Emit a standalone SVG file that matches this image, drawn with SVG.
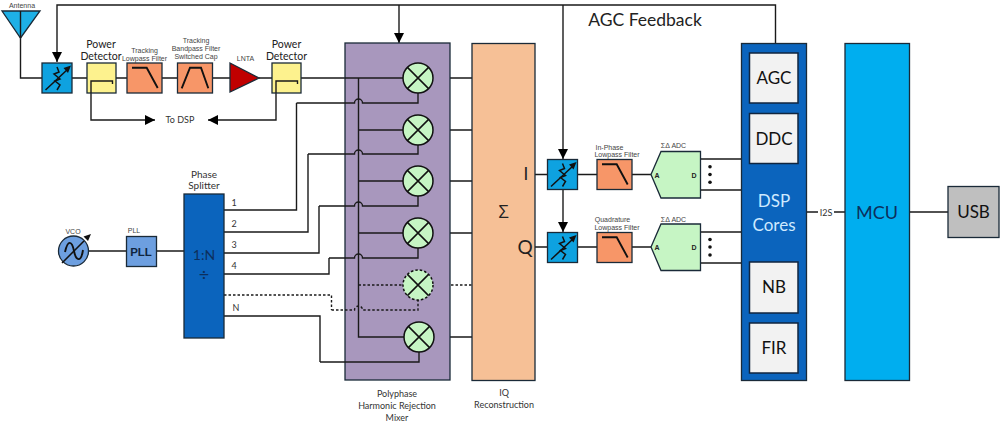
<svg xmlns="http://www.w3.org/2000/svg" width="1000" height="428" viewBox="0 0 1000 428">
<style>
text{font-family:"Lato","Open Sans",sans-serif;fill:#222;text-anchor:middle}
.s{font-family:"Liberation Sans",Arial,sans-serif;font-size:7px;fill:#444}
.m{font-size:9px;fill:#333}
.l{font-size:10.500px}
.b{font-size:17px;fill:#111}
.w{fill:none;stroke:#1a1a1a;stroke-width:1.4}
.d{fill:none;stroke:#1a1a1a;stroke-width:1.4;stroke-dasharray:2.5 2}
.box{stroke:#1a2a38;stroke-width:1.3}
.at{fill:#0ea2e0}
.fi{fill:#f79668}
.pd{fill:#fdf28e}
.mix{fill:#c6f5c4}
.core{fill:#f2f2f2;stroke:#10253f;stroke-width:1.5}
.g{fill:none;stroke:#111;stroke-width:1.5}
.t{fill:none;stroke:#111;stroke-width:1.9}
</style>
<defs>
<marker id="a" markerUnits="userSpaceOnUse" markerWidth="11" markerHeight="10" refX="10" refY="5" orient="auto"><path d="M0 0L10 5L0 10Z" fill="#000"/></marker>
<g id="atten">
<rect class="box at" width="30" height="30"/>
<path class="g" d="M3.500 27L26 6"/>
<path class="g" d="M15 4L17 9L12 11L18 16L13 18L18 22L15 27"/>
<path d="M29 2.500L21.500 5L26 10Z" fill="#111"/>
</g>
<g id="x">
<path class="g" d="M-10.600 -10.600L10.600 10.600M-10.600 10.600L10.600 -10.600"/>
</g>
<g id="lp">
<rect class="box fi" width="35" height="30"/>
<path class="t" d="M5 4.700H19.700L30.700 25"/>
</g>
<g id="adc">
<path class="box mix" d="M0 0L10 -23H49.500V23.500H10Z"/>
<text class="s" x="6" y="3" style="font-weight:bold;fill:#222">A</text>
<text class="s" x="43" y="3" style="font-weight:bold;fill:#222">D</text>
</g>
</defs>

<g id="connectors">
<path class="w" d="M20.500 11V78H42"/>
<path class="w" d="M72 78H230M259 78H403"/>
<path class="w" d="M775.500 43V5H57V62" marker-end="url(#a)"/>
<path class="w" d="M399 5V43" marker-end="url(#a)"/>
<path class="w" d="M563 5V159" marker-end="url(#a)"/>
<path class="w" d="M563 189V232" marker-end="url(#a)"/>
<path class="w" d="M91 93V120H155" marker-end="url(#a)"/>
<path class="w" d="M276 93V120H208" marker-end="url(#a)"/>
<path class="w" d="M88 251H184"/>
<path class="w" d="M224 210H296.500V103"/>
<path class="w" d="M224 232H308V154"/>
<path class="w" d="M224 253H319V206"/>
<path class="w" d="M224 274H329V258"/>
<path class="d" d="M224 295H331.500V310"/>
<path class="w" d="M224 316H320V362"/>
<path class="w" d="M433 78H472M433 130H472M433 181H472M433 233H472M434 337H472"/>
<path class="d" d="M433 285H472"/>
<path class="w" d="M535 174.500H547M577.500 174.500H597M632 174.500H651"/>
<path class="w" d="M535 247H547M577.500 247H597M632 247H651"/>
<path class="w" d="M700 159H741M700 190H741M700 232H741M700 263H741"/>
<path class="w" d="M807 212H818M834 212H845M909 212H948"/>
</g>

<g id="antenna"><path class="box" d="M2 11H40L20.500 38Z" fill="#1eb0e6"/><path class="w" d="M20.500 11V38"/><text class="s" x="22" y="8">Antenna</text></g>
<use id="attenuator-rf" href="#atten" x="42" y="63"/>
<g id="power-detector-1"><rect class="box pd" x="87" y="63" width="29" height="30"/><path class="w" d="M91 93V81H112.500V84"/><text class="l" x="101" y="48">Power</text><text class="l" x="101" y="60">Detector</text></g>
<g id="lowpass-filter"><use href="#lp" x="127" y="63"/><text class="s" x="144.500" y="53">Tracking</text><text class="s" x="144.500" y="60.500">Lowpass Filter</text></g>
<g id="bandpass-filter"><rect class="box fi" x="177.500" y="63" width="35" height="30"/><path class="t" d="M181.700 88.300L190 67.700H201L208.300 88.300"/><text class="s" x="196" y="42.500">Tracking</text><text class="s" x="196" y="50.500">Bandpass Filter</text><text class="s" x="196" y="58.500">Switched Cap</text></g>
<g id="lnta"><path class="box" d="M230 63L259 78L230 92Z" fill="#c00000"/><text class="s" x="245.500" y="60.500">LNTA</text></g>
<g id="power-detector-2"><rect class="box pd" x="272" y="63" width="29" height="30"/><path class="w" d="M276 93V81H297.500V84"/><text class="l" x="286.500" y="48">Power</text><text class="l" x="286.500" y="60">Detector</text></g>
<text id="to-dsp" class="m" x="180" y="123">To DSP</text>

<g id="vco"><circle class="box" cx="73.500" cy="251" r="15" fill="#6d9fe0" stroke-width="1.500"/><path class="g" d="M62 263L84 241"/><path d="M91 234L83.500 236.500L88 241Z" fill="#111"/><path class="t" d="M65 252C68 239 72 241 74 251C76 261 81 263 83 250"/><text class="s" x="73" y="234">VCO</text></g>
<g id="pll"><rect class="box" x="126.500" y="236.500" width="30" height="30" fill="#6d9fe0"/><text x="141" y="255.500" style="font-size:11.500px;font-weight:bold;fill:#10253f;font-family:'Liberation Sans',sans-serif">PLL</text><text class="s" x="134" y="233">PLL</text></g>
<g id="phase-splitter"><rect class="box" x="184" y="194" width="40" height="144" fill="#0b64bd"/><text class="m" x="204" y="177.500" style="font-size:10px">Phase</text><text class="m" x="204" y="189" style="font-size:10px">Splitter</text><text x="204" y="260" style="font-size:14px;fill:#0d2f5c">1:N</text><text x="204" y="281" style="font-size:18px;fill:#0d2f5c">÷</text>
<text class="m" x="234" y="206">1</text><text class="m" x="234" y="227">2</text><text class="m" x="234" y="248">3</text><text class="m" x="234" y="269">4</text><text class="m" x="236" y="311">N</text></g>

<g id="mixer-bank">
<rect class="box" x="345" y="43" width="105" height="337" fill="#a897bd"/>
<path class="w" d="M345 78H403M358.500 78V337H404M358.500 130H403M358.500 181H403M358.500 233H403"/>
<path class="d" d="M358.500 285H403"/>
<path class="w" d="M296.500 103H354.500A4 4 0 0 1 362.500 103H418V93M308 154H354.500A4 4 0 0 1 362.500 154H418V145M319 206H354.500A4 4 0 0 1 362.500 206H418V196M329 258H354.500A4 4 0 0 1 362.500 258H418V248"/>
<path class="d" d="M331.500 310H354.500A4 4 0 0 1 362.500 310H418V300"/>
<path class="w" d="M320 362H419V352"/>
<g id="mixer-1"><circle class="mix" cx="418" cy="78" r="15" stroke="#111" stroke-width="1.500"/><use href="#x" x="418" y="78"/></g>
<g id="mixer-2"><circle class="mix" cx="418" cy="130" r="15" stroke="#111" stroke-width="1.500"/><use href="#x" x="418" y="130"/></g>
<g id="mixer-3"><circle class="mix" cx="418" cy="181" r="15" stroke="#111" stroke-width="1.500"/><use href="#x" x="418" y="181"/></g>
<g id="mixer-4"><circle class="mix" cx="418" cy="233" r="15" stroke="#111" stroke-width="1.500"/><use href="#x" x="418" y="233"/></g>
<g id="mixer-5"><circle class="mix" cx="418" cy="285" r="15" stroke="#111" stroke-width="1.500" stroke-dasharray="2.500 2"/><use href="#x" x="418" y="285"/></g>
<g id="mixer-n"><circle class="mix" cx="419" cy="337" r="15" stroke="#111" stroke-width="1.500"/><use href="#x" x="419" y="337"/></g>
<text class="m" x="397" y="396.500">Polyphase</text><text class="m" x="397" y="408.500">Harmonic Rejection</text><text class="m" x="397" y="420.500">Mixer</text>
</g>

<g id="iq-reconstruction"><rect class="box" x="472" y="43.500" width="63" height="337" fill="#f6c096"/><text x="503.500" y="218" style="font-size:18px;fill:#222;font-family:'Open Sans',sans-serif">Σ</text><text x="526" y="180" style="font-size:17px">I</text><text x="525" y="254" style="font-size:19px">Q</text><text class="m" x="504" y="396">IQ</text><text class="m" x="504" y="407.500">Reconstruction</text></g>

<use id="attenuator-i" href="#atten" x="547.500" y="159.500"/>
<use id="attenuator-q" href="#atten" x="547.500" y="232.500"/>
<g id="i-filter"><use href="#lp" x="597" y="159.500"/><text class="s" x="609.500" y="149.500">In-Phase</text><text class="s" x="617" y="157">Lowpass Filter</text></g>
<g id="q-filter"><use href="#lp" x="597" y="232.500"/><text class="s" x="612.500" y="222">Quadrature</text><text class="s" x="617" y="230">Lowpass Filter</text></g>
<g id="adc-i"><use href="#adc" x="651" y="174.500"/><text class="s" x="673.500" y="148">ΣΔ ADC</text><g fill="#111"><circle cx="710" cy="166.700" r="1.800"/><circle cx="710" cy="174.500" r="1.800"/><circle cx="710" cy="182.300" r="1.800"/></g></g>
<g id="adc-q"><use href="#adc" x="651" y="247"/><text class="s" x="673.500" y="222">ΣΔ ADC</text><g fill="#111"><circle cx="710" cy="239.500" r="1.800"/><circle cx="710" cy="247" r="1.800"/><circle cx="710" cy="255" r="1.800"/></g></g>

<text id="agc-feedback" x="645" y="26" style="font-size:17.500px;fill:#222">AGC Feedback</text>

<g id="dsp-cores"><rect class="box" x="741.500" y="43.500" width="65" height="337" fill="#0b64bd"/><text x="774" y="207" style="font-size:17px;fill:#cfeaff">DSP</text><text x="774" y="230.500" style="font-size:17px;fill:#cfeaff">Cores</text></g>
<g id="agc"><rect class="core" x="749.500" y="53" width="48.500" height="50"/><text class="b" x="774" y="84">AGC</text></g>
<g id="ddc"><rect class="core" x="749.500" y="113.500" width="48.500" height="50"/><text class="b" x="774" y="144.500">DDC</text></g>
<g id="nb"><rect class="core" x="749.500" y="262" width="48.500" height="51"/><text class="b" x="774" y="293">NB</text></g>
<g id="fir"><rect class="core" x="749.500" y="323" width="48.500" height="50"/><text class="b" x="774" y="354">FIR</text></g>
<text id="i2s" class="m" x="826" y="215.500">I2S</text>
<g id="mcu"><rect class="box" x="845" y="43.500" width="64.500" height="337" fill="#00aeef"/><text x="877" y="218.500" style="font-size:18px;fill:#0d2f5c">MCU</text></g>
<g id="usb"><rect class="box" x="948" y="186.500" width="51" height="51" fill="#bfbfbf"/><text class="b" x="973.500" y="218">USB</text></g>
</svg>
